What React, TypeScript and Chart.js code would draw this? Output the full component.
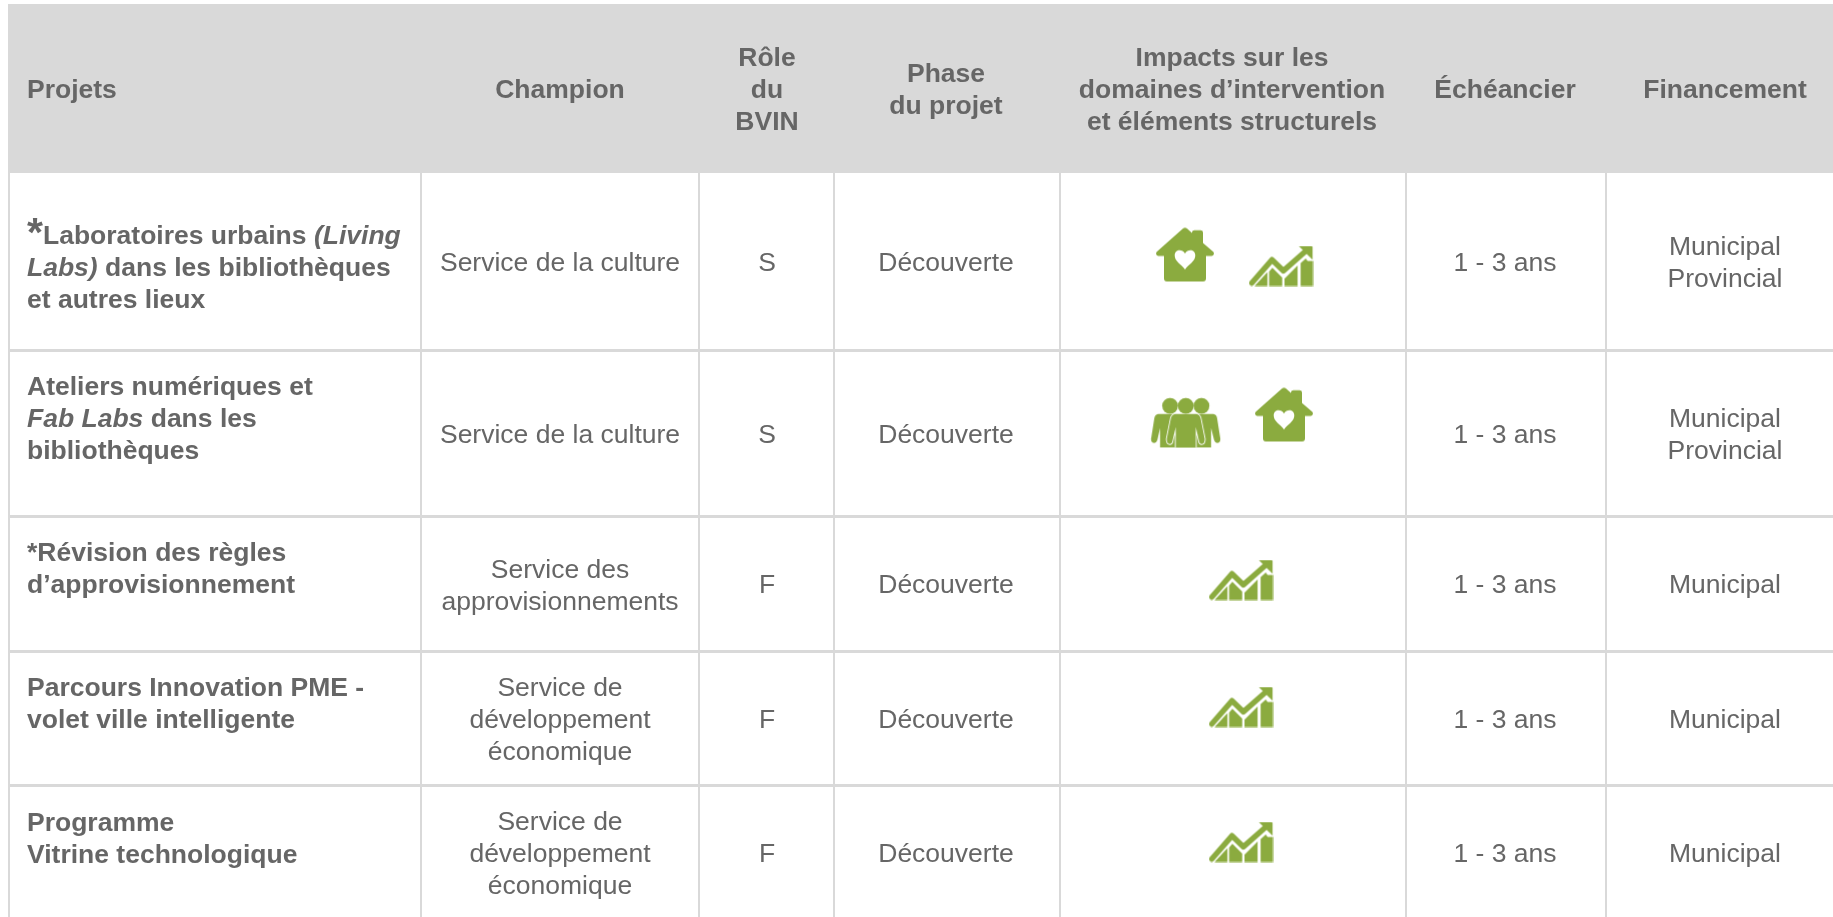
import React, { useEffect, useRef } from "react";
import { Chart, registerables } from "chart.js";

Chart.register(...registerables);

// ---- table data ----
const headerLabels = [
  ["Projets"],
  ["Champion"],
  ["Rôle", "du", "BVIN"],
  ["Phase", "du projet"],
  ["Impacts sur les", "domaines d’intervention", "et éléments structurels"],
  ["Échéancier"],
  ["Financement"],
];
type Seg = { t: string; i?: boolean; big?: boolean };
const projects: Seg[][][] = [
  [
    [{ t: "*", big: true }, { t: "Laboratoires urbains " }, { t: "(Living", i: true }],
    [{ t: "Labs)", i: true }, { t: " dans les bibliothèques" }],
    [{ t: "et autres lieux" }],
  ],
  [
    [{ t: "Ateliers numériques et" }],
    [{ t: "Fab Labs", i: true }, { t: " dans les" }],
    [{ t: "bibliothèques" }],
  ],
  [[{ t: "*Révision des règles" }], [{ t: "d’approvisionnement" }]],
  [[{ t: "Parcours Innovation PME -" }], [{ t: "volet ville intelligente" }]],
  [[{ t: "Programme" }], [{ t: "Vitrine technologique" }]],
];
const champions = [
  ["Service de la culture"],
  ["Service de la culture"],
  ["Service des", "approvisionnements"],
  ["Service de", "développement", "économique"],
  ["Service de", "développement", "économique"],
];
const roles = ["S", "S", "F", "F", "F"];
const phases = ["Découverte", "Découverte", "Découverte", "Découverte", "Découverte"];
const timelines = ["1 - 3 ans", "1 - 3 ans", "1 - 3 ans", "1 - 3 ans", "1 - 3 ans"];
const funding = [["Municipal", "Provincial"], ["Municipal", "Provincial"], ["Municipal"], ["Municipal"], ["Municipal"]];

// ---- layout, in the scale units of the table ----
const columnLines = [9, 421, 699, 833.5, 1059.5, 1405.5, 1605.5];
const rowLines = [171, 350, 516, 651, 785];
const columnCentres = [27, 560, 767, 946, 1232, 1505, 1725];
const headerCentre = 89;
const rowCentres = [262, 434, 584, 719, 853];
const projectCentres = [267, 418, 568, 703, 838];
const championCentres = [262, 434, 585, 719, 853];
const lineHeight = 32.3;

const houseIcons = [{ x: 1185, y: 254.5 }, { x: 1284, y: 414.5 }];
const growthIcons = [
  { x: 1281, y: 266 },
  { x: 1241, y: 580 },
  { x: 1241, y: 707 },
  { x: 1241, y: 842 },
];
const peopleIcons = [{ x: 1185.7, y: 422.7 }];

const GREEN = "#8BAB3F";
const GREY = "#666666";
const RULE = "#D9D9D9";
const FONT = '"Liberation Sans", Arial, sans-serif';
const SIZE = 26.5;

function makeIcon(w: number, h: number, draw: (c: CanvasRenderingContext2D) => void) {
  const cv = document.createElement("canvas");
  cv.width = w;
  cv.height = h;
  const c = cv.getContext("2d")!;
  c.fillStyle = GREEN;
  c.strokeStyle = GREEN;
  draw(c);
  return cv;
}

function houseIcon() {
  return makeIcon(60, 56, (c) => {
    c.translate(1, 1);
    const p = new Path2D(
      "M27,1 Q29,-0.5 31,1 L36,5.5 L36,5 Q36,2.7 38.5,2.7 L44.5,2.7 Q47,2.7 47,5 L47,15.5 L57.5,24.5 Q59,27.5 55.5,28.5 L50,28.5 L50,51 Q50,54 47,54 L11,54 Q8,54 8,51 L8,28.5 L2.5,28.5 Q-1,27.5 0.5,24.5 Z"
    );
    c.fill(p);
    c.fillStyle = "#fff";
    c.fill(new Path2D("M29,42 C25,36.5 18.7,34 18.7,28 C18.7,22 26,21 29,26 C32,21 39.3,22 39.3,28 C39.3,34 33,36.5 29,42 Z"));
  });
}

function growthIcon() {
  return makeIcon(65, 41, (c) => {
    c.translate(0.5, 0.6);
    c.scale(1.03, 1.03);
    c.lineWidth = 1;
    c.lineJoin = "miter";
    [
      "M6.7,38.2 L17.3,26.7 L17.3,38.2 Z",
      "M20,38.2 L20,25 L22.7,21.7 L31.7,30.7 L31.7,38.2 Z",
      "M35,31.7 L46.7,20 L46.7,38.2 L35,38.2 Z",
      "M50.7,16.7 L55,12.7 L56.7,15 L61.6,15 L61.6,38.2 L50.7,38.2 Z",
    ].forEach((d) => {
      const bar = new Path2D(d);
      c.fill(bar);
      c.stroke(bar);
    });
    c.lineWidth = 5.4;
    c.lineCap = "round";
    c.lineJoin = "round";
    c.stroke(new Path2D("M2.7,35.8 L22.3,13.3 L33.3,24 L56,4"));
    c.fill(new Path2D("M48.3,0 L60.5,0 Q61.7,0 61.7,1.2 L61.7,13.3 Z"));
  });
}

function peopleIcon() {
  return makeIcon(71, 51, (c) => {
    c.translate(0.85, 0.85);
    c.fill(
      new Path2D(
        "M7,16 L62.3,16 Q65.5,16.5 66,20 L69.3,41 Q69.3,45 66,45 Q64,45 63,42 L60,30 L60,49.3 L9,49.3 L9,30 L6.3,42 Q5.3,45 3.3,45 Q0,45 0,41 L3.3,20 Q4,16.5 7,16 Z"
      )
    );
    const centre = new Path2D(
      "M24,16 L45.4,16 Q48.5,16.5 49.5,20 L53.7,41 Q53.7,46 50.5,46 Q48.5,46 48,43 L44.7,29 L44.7,51 L24.7,51 L24.7,29 L21.4,43 Q20.9,46 18.9,46 Q15.7,46 15.7,41 L19.9,20 Q20.9,16.5 24,16 Z"
    );
    c.save();
    c.beginPath();
    c.rect(-1, -1, 73, 50.3);
    c.clip();
    c.strokeStyle = "#fff";
    c.lineWidth = 1.8;
    c.stroke(centre);
    c.fill(centre);
    c.restore();
    [19, 50.4, 34.7].forEach((x) => {
      c.beginPath();
      c.arc(x, 7.7, 7.9, 0, Math.PI * 2);
      c.fill();
    });
  });
}

function App() {
  const ref = useRef<HTMLCanvasElement>(null);

  useEffect(() => {
    const tablePlugin = {
      id: "tablePlugin",
      beforeDatasetsDraw(chart: any) {
        const { ctx, scales } = chart;
        const x0 = scales.x.getPixelForValue(8);
        const x1 = scales.x.getPixelForValue(1833);
        const y0 = scales.y.getPixelForValue(4);
        const y1 = scales.y.getPixelForValue(171);
        ctx.save();
        ctx.fillStyle = RULE;
        ctx.fillRect(x0, y0, x1 - x0, y1 - y0);
        ctx.restore();
      },
      afterDatasetsDraw(chart: any) {
        const { ctx, scales } = chart;
        const px = (v: number) => scales.x.getPixelForValue(v);
        const py = (v: number) => scales.y.getPixelForValue(v);
        const block = (lines: string[], cx: number, cy: number, bold: boolean, align = "center") => {
          ctx.font = `${bold ? "bold " : ""}${SIZE}px ${FONT}`;
          ctx.textAlign = align;
          const top = cy - ((lines.length - 1) * lineHeight) / 2;
          lines.forEach((l, i) => ctx.fillText(l, px(cx), py(top + i * lineHeight + 9)));
        };
        ctx.save();
        ctx.fillStyle = GREY;
        ctx.textBaseline = "alphabetic";
        headerLabels.forEach((lines, i) =>
          block(lines, columnCentres[i], headerCentre, true, i === 0 ? "left" : "center")
        );
        projects.forEach((lines, r) => {
          const top = projectCentres[r] - ((lines.length - 1) * lineHeight) / 2;
          lines.forEach((segs, i) => {
            let x = px(columnCentres[0]);
            const y = py(top + i * lineHeight + 9);
            ctx.textAlign = "left";
            segs.forEach((s) => {
              ctx.font = `${s.i ? "italic " : ""}bold ${s.big ? 41 : SIZE}px ${FONT}`;
              ctx.fillText(s.t, x, y + (s.big ? 2 : 0));
              x += ctx.measureText(s.t).width;
            });
          });
        });
        for (let r = 0; r < roles.length; r++) {
          block(champions[r], columnCentres[1], championCentres[r], false);
          block([roles[r]], columnCentres[2], rowCentres[r], false);
          block([phases[r]], columnCentres[3], rowCentres[r], false);
          block([timelines[r]], columnCentres[5], rowCentres[r], false);
          block(funding[r], columnCentres[6], rowCentres[r], false);
        }
        ctx.restore();
      },
    };

    const chart = new Chart(ref.current!, {
      type: "scatter",
      data: {
        datasets: [
          { label: "Milieu de vie", data: houseIcons, pointStyle: houseIcon() as any, pointRadius: 30 },
          { label: "Économie", data: growthIcons, pointStyle: growthIcon() as any, pointRadius: 30 },
          { label: "Citoyens", data: peopleIcons, pointStyle: peopleIcon() as any, pointRadius: 30 },
        ],
      },
      options: {
        responsive: false,
        animation: false,
        devicePixelRatio: 1,
        layout: { autoPadding: false, padding: { left: 8, top: 4, right: 0, bottom: 0 } },
        plugins: { legend: { display: false }, tooltip: { enabled: false }, title: { display: false } },
        scales: {
          x: {
            type: "linear",
            min: 8,
            max: 1833,
            afterBuildTicks: (s: any) => {
              s.ticks = columnLines.map((value) => ({ value }));
            },
            ticks: { display: false },
            border: { display: false },
            grid: { color: RULE, lineWidth: 2, drawTicks: false },
          },
          y: {
            type: "linear",
            reverse: true,
            min: 4,
            max: 917,
            afterBuildTicks: (s: any) => {
              s.ticks = rowLines.map((value) => ({ value }));
            },
            ticks: { display: false },
            border: { display: false },
            grid: { color: RULE, lineWidth: 3, drawTicks: false },
          },
        },
      },
      plugins: [tablePlugin],
    } as any);
    return () => chart.destroy();
  }, []);

  return (
    <div style={{ position: "absolute", left: 0, top: 0, width: 1833, height: 917, background: "#fff" }}>
      <canvas ref={ref} width={1833} height={917} style={{ display: "block" }} />
    </div>
  );
}

export default App;
